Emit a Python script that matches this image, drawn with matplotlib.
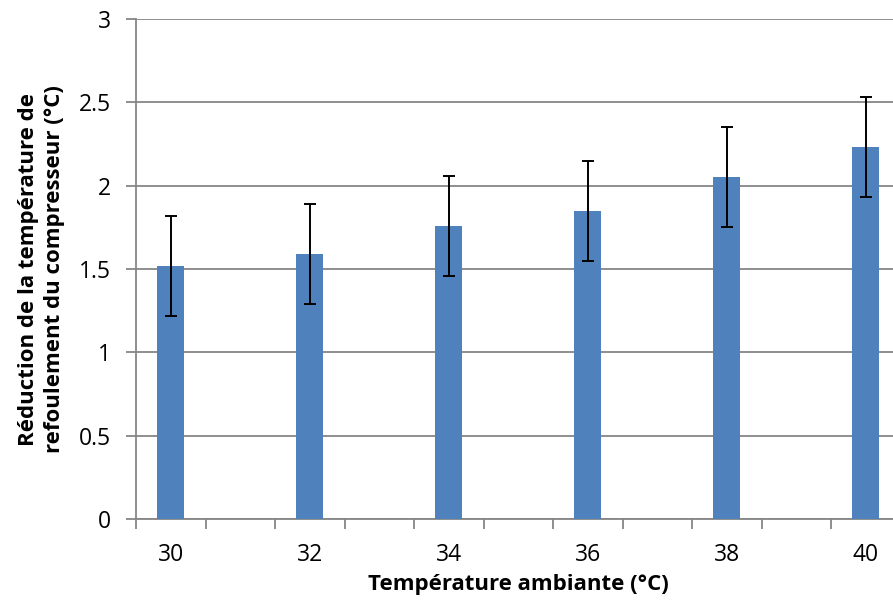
import numpy as np
import matplotlib.pyplot as plt

plt.rcParams['font.family'] = ['Open Sans', 'DejaVu Sans']

temps = [30, 32, 34, 36, 38, 40]
reduction = [1.52, 1.59, 1.76, 1.85, 2.05, 2.23]
err = [0.30, 0.30, 0.30, 0.30, 0.30, 0.30]
tick_labels = ['30', '32', '34', '36', '38', '40']

fig = plt.figure(figsize=(8.93, 6.05), dpi=100)
ax = fig.add_axes([136 / 893, 1 - 519 / 605, (900.5 - 136) / 893, (519 - 19) / 605])

ax.bar(temps, reduction, width=0.39, color='#4F81BD', zorder=3)
ax.errorbar(temps, reduction, yerr=err, fmt='none', ecolor='black',
            elinewidth=1.4, capsize=4.5, capthick=1.4, zorder=4)

ax.set_xlim(29.5, 40.5)
ax.set_ylim(0, 3)
ax.set_yticks([0, 0.5, 1, 1.5, 2, 2.5, 3])
ax.set_yticklabels(['0', '0.5', '1', '1.5', '2', '2.5', '3'])
ax.set_xticks(temps)
ax.set_xticklabels(tick_labels)
ax.set_xticks(np.arange(29.5, 41, 1), minor=True)

ax.grid(axis='y', color='#868686', linewidth=1.3, zorder=0)
for s in ['top', 'right']:
    ax.spines[s].set_visible(False)
for s in ['left', 'bottom']:
    ax.spines[s].set_color('#868686')
    ax.spines[s].set_linewidth(1.3)

ax.tick_params(axis='x', which='major', length=0, pad=17, labelsize=16.5)
ax.tick_params(axis='x', which='minor', length=7, width=1.3, color='#868686')
ax.tick_params(axis='y', length=7, width=1.3, color='#868686', pad=11, labelsize=16.5)

ax.set_xlabel('Température ambiante (°C)', fontsize=16, fontweight='bold', labelpad=5)
ax.set_ylabel('Réduction de la température de\nrefoulement du compresseur (°C)',
              fontsize=16, fontweight='bold', labelpad=10, linespacing=1.3)

fig.savefig('out.png', dpi=100)
